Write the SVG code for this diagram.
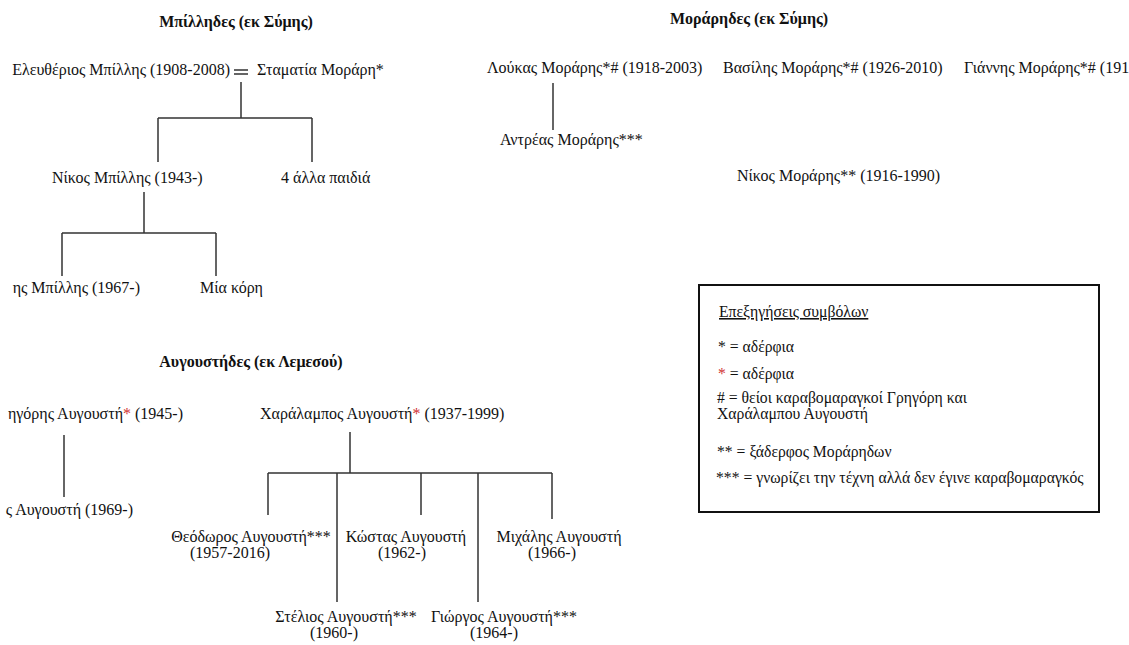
<svg xmlns="http://www.w3.org/2000/svg" width="1129" height="645" viewBox="0 0 1129 645" font-family="Liberation Serif, Times New Roman, serif" font-size="16">
<style>
text{fill:#111}
.t{font-weight:bold;font-size:16px}
.r{fill:#d03030}
.c{text-anchor:middle}
.e{text-anchor:end}
.ln{stroke:#333;stroke-width:1.5;fill:none}
.lg{font-size:15.7px}
</style>
<rect width="1129" height="645" fill="#fff"/>
<g id="titles">
<text class="t c" x="236" y="27">Μπίλληδες (εκ Σύμης)</text>
<text class="t c" x="749" y="24">Μοράρηδες (εκ Σύμης)</text>
<text class="t c" x="251" y="367">Αυγουστήδες (εκ Λεμεσού)</text>
</g>
<g id="connectors">
<path class="ln" d="M234 70H248M234 74H248"/>
<path class="ln" d="M241 82V118M158 118H312M158 118V162M312 118V162"/>
<path class="ln" d="M144 192V233M62 233H216M62 233V276M216 233V276"/>
<path class="ln" d="M553 83V130"/>
<path class="ln" d="M64 435V497"/>
<path class="ln" d="M350 432V473M268 473H552M268 473V515M337 473V602M421 473V515M478 473V602M552 473V519"/>
</g>
<g id="n-eleftherios"><text class="e" x="230" y="75">Ελευθέριος Μπίλλης (1908-2008)</text></g>
<g id="n-stamatia"><text x="257" y="75">Σταματία Μοράρη*</text></g>
<g id="n-nikos-b"><text x="52" y="183">Νίκος Μπίλλης (1943-)</text></g>
<g id="n-4alla"><text x="281" y="183">4 άλλα παιδιά</text></g>
<g id="n-son-b"><text class="e" x="140" y="293">ης Μπίλλης (1967-)</text></g>
<g id="n-kori"><text x="200" y="293">Μία κόρη</text></g>
<g id="n-loukas"><text x="487" y="73">Λούκας Μοράρης*# (1918-2003)</text></g>
<g id="n-vasilis"><text x="723" y="73">Βασίλης Μοράρης*# (1926-2010)</text></g>
<g id="n-giannis"><text x="964" y="73">Γιάννης Μοράρης*# (191</text></g>
<g id="n-antreas"><text x="500" y="145">Αντρέας Μοράρης***</text></g>
<g id="n-nikos-m"><text x="737" y="181">Νίκος Μοράρης** (1916-1990)</text></g>
<g id="n-grigoris"><text class="e" x="183" y="419">ηγόρης Αυγουστή<tspan class="r">*</tspan> (1945-)</text></g>
<g id="n-son-a"><text class="e" x="133" y="515">ς Αυγουστή (1969-)</text></g>
<g id="n-charalampos"><text x="260" y="419">Χαράλαμπος Αυγουστή<tspan class="r">*</tspan> (1937-1999)</text></g>
<g id="n-theodoros"><text class="c" x="251" y="542">Θεόδωρος Αυγουστή***</text><text class="c" x="230" y="558">(1957-2016)</text></g>
<g id="n-kostas"><text class="c" x="406" y="542">Κώστας Αυγουστή</text><text class="c" x="402" y="558">(1962-)</text></g>
<g id="n-michalis"><text class="c" x="559" y="542">Μιχάλης Αυγουστή</text><text class="c" x="552" y="558">(1966-)</text></g>
<g id="n-stelios"><text class="c" x="346" y="622">Στέλιος Αυγουστή***</text><text class="c" x="334" y="638">(1960-)</text></g>
<g id="n-giorgos"><text class="c" x="504" y="622">Γιώργος Αυγουστή***</text><text class="c" x="494" y="638">(1964-)</text></g>
<g id="legend">
<rect x="699" y="285" width="400" height="227" fill="none" stroke="#111" stroke-width="2"/>
<text class="lg" x="719" y="317" text-decoration="underline">Επεξηγήσεις συμβόλων</text>
<text class="lg" x="718" y="352">* = αδέρφια</text>
<text class="lg" x="718" y="379"><tspan class="r">*</tspan> = αδέρφια</text>
<text class="lg" x="717" y="403"># = θείοι καραβομαραγκοί Γρηγόρη και</text>
<text class="lg" x="717" y="419">Χαράλαμπου Αυγουστή</text>
<text class="lg" x="717" y="457">** = ξάδερφος Μοράρηδων</text>
<text class="lg" x="716" y="483">*** = γνωρίζει την τέχνη αλλά δεν έγινε καραβομαραγκός</text>
</g>
</svg>
